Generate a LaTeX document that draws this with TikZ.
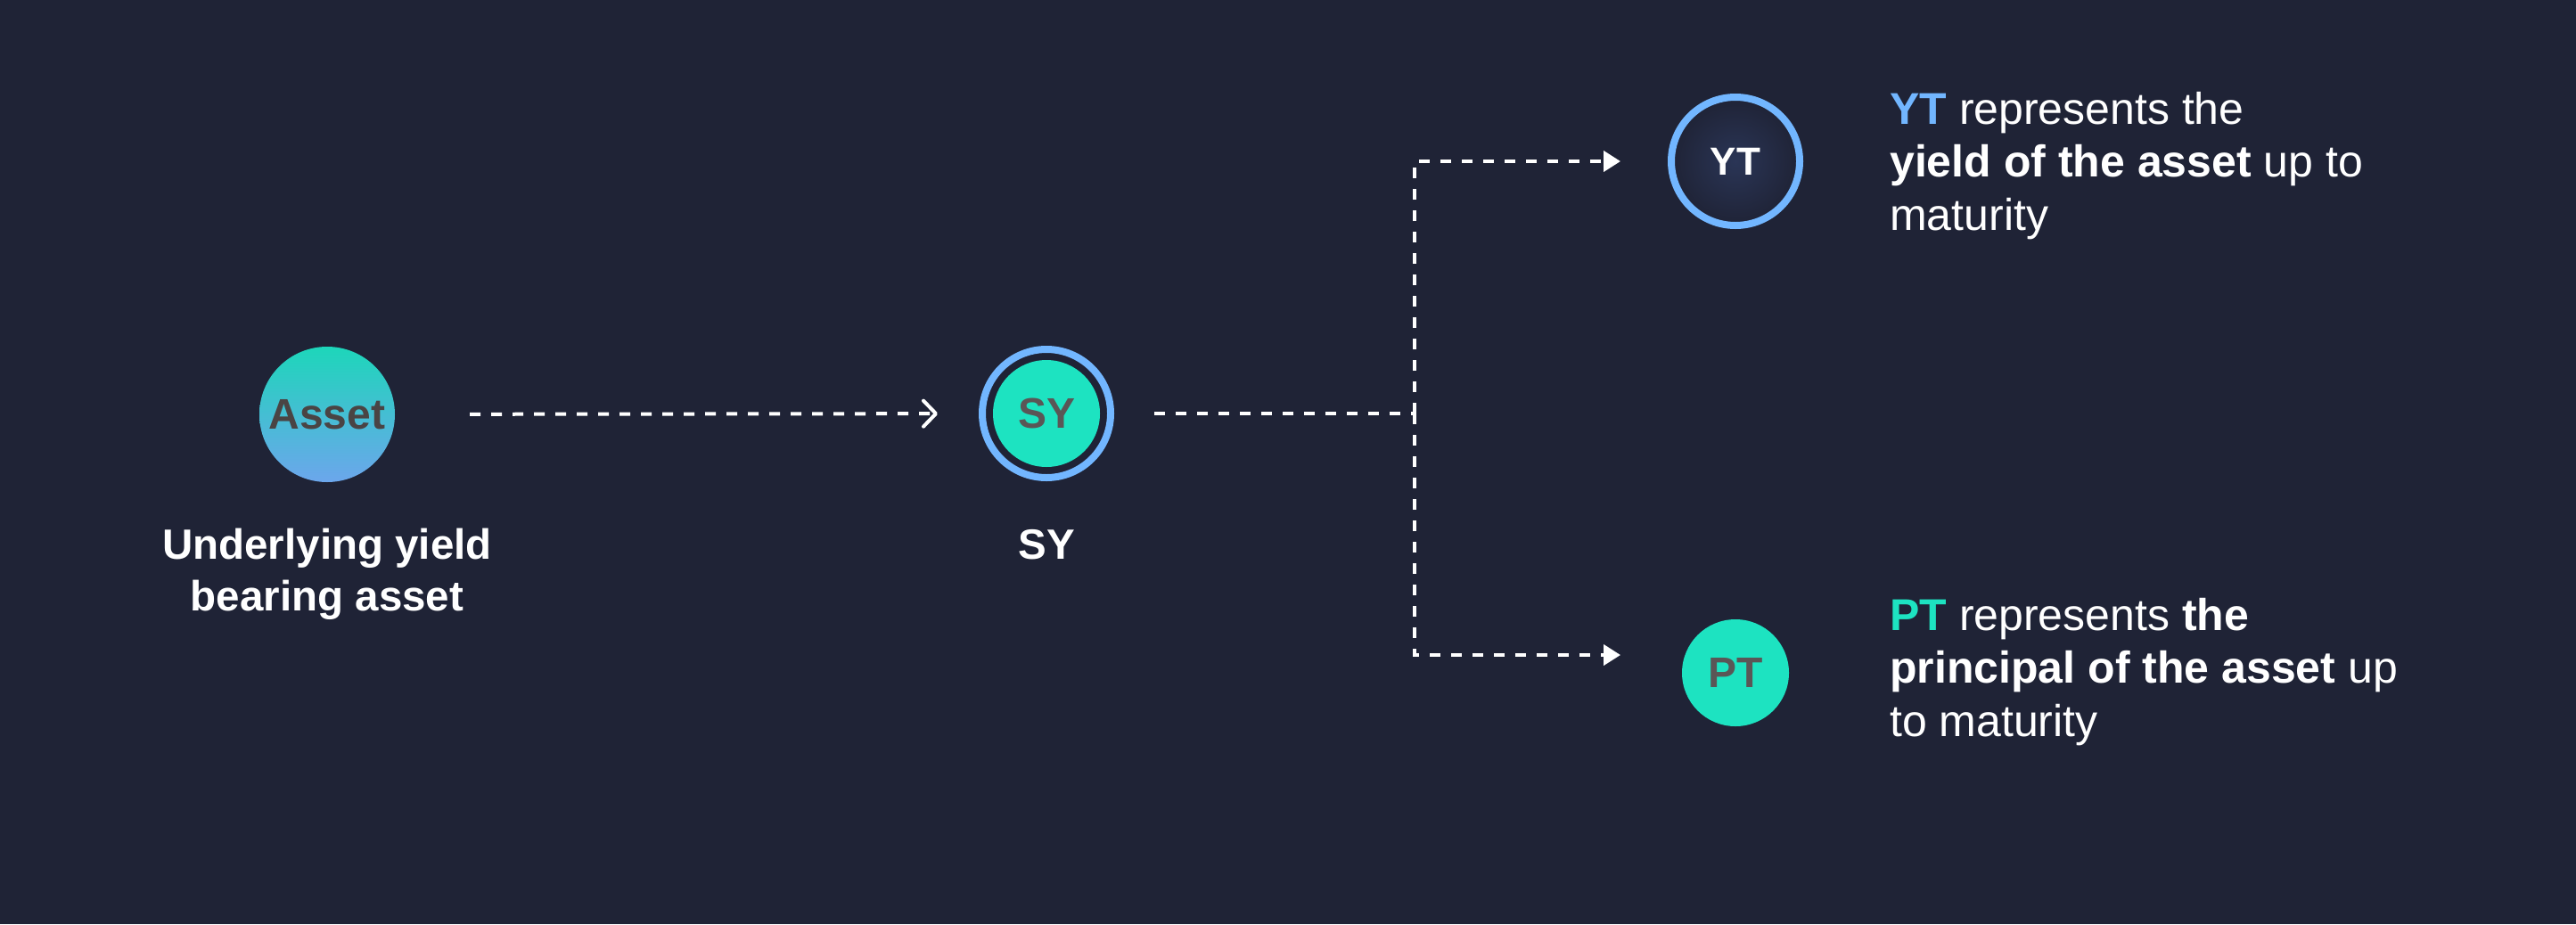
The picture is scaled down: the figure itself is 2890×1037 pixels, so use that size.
\documentclass[tikz,border=0pt]{standalone}
\usepackage{fontspec}
\setmainfont{Liberation Sans}
\usetikzlibrary{arrows.meta}
\definecolor{bg}{RGB}{31,35,54}
\definecolor{mint}{RGB}{29,227,193}
\definecolor{skyb}{RGB}{114,182,255}
\definecolor{assettxt}{RGB}{74,68,68}
\definecolor{graytxt}{RGB}{90,86,86}
\definecolor{gradtop}{RGB}{29,214,186}
\definecolor{gradbot}{RGB}{108,166,236}
\definecolor{glow}{RGB}{42,53,86}
\begin{document}
\begin{tikzpicture}[x=1pt,y=-1pt,
  dashline/.style={draw=white, line width=4pt, dash pattern=on 12pt off 12pt},
  coin/.style={circle, inner sep=0pt, outer sep=0pt},
  coinfont/.style={font=\bfseries\fontsize{48}{58}\selectfont},
  labelfont/.style={font=\bfseries\fontsize{47.5}{58}\selectfont},
  desc/.style={anchor=base west, align=left, text=white, inner sep=0pt,
    font=\fontsize{50}{59.5}\selectfont}]
\fill[bg] (0,0) rectangle (2890,1037);
\useasboundingbox (0,0) rectangle (2890,1037);

% nodes
\node[coin, coinfont, minimum size=152pt, top color=gradtop, bottom color=gradbot,
  text=assettxt] (asset) at (367,465) {Asset};
\node[coin, coinfont, minimum size=144pt, draw=skyb, line width=8pt, outer sep=4pt,
  text=graytxt,
  path picture={\fill[mint] (path picture bounding box.center) circle[radius=60pt];}]
  (sy) at (1174,464) {SY};
\node[coin, minimum size=144pt, draw=skyb, line width=8pt, outer sep=4pt,
  inner color=glow, outer color=bg, text=white,
  font=\bfseries\fontsize{44}{52}\selectfont] (yt) at (1947,181) {YT};
\node[coin, coinfont, minimum size=120pt, fill=mint, text=graytxt] (pt) at (1947,755) {PT};

% labels (multi-line nodes: base = last line)
\node[labelfont, anchor=base, align=center, text=white, inner sep=0pt]
  (assetlabel) at (367,685) {Underlying yield\\bearing asset};
\node[labelfont, anchor=base, text=white, inner sep=0pt] (sylabel) at (1174,627) {SY};

\node[desc] (yttext) at (2120,258)
  {\textcolor{skyb}{\textbf{YT}} represents the\\\textbf{yield of the asset} up to\\maturity};
\node[desc] (pttext) at (2120,826)
  {\textcolor{mint}{\textbf{PT}} represents \textbf{the}\\\textbf{principal of the asset} up\\to maturity};

% connectors
\coordinate (j) at (1587,464);
\draw[dashline, -{Straight Barb[length=14pt, width=29pt, round]},
  shorten <=84pt, shorten >=46pt] (asset) -- (sy);
\draw[dashline, shorten <=45pt] (sy) -- (j);
\draw[dashline, -{Triangle[length=19pt, width=23pt]}, shorten >=53pt] (j) |- (yt);
\draw[dashline, -{Triangle[length=19pt, width=23pt]}, shorten >=69pt]
  (j) |- ([yshift=20pt]pt.west);
\end{tikzpicture}
\end{document}
